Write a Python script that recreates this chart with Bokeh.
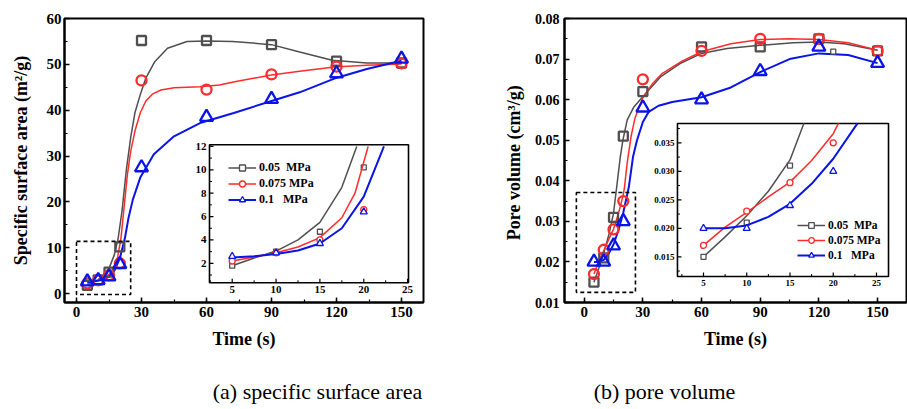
import math
from bokeh.plotting import figure
from bokeh.layouts import row, column
from bokeh.models import (Range1d, SingleIntervalTicker, Legend, LegendItem,
                          PrintfTickFormatter)
from bokeh.core.properties import value
from bokeh.embed import file_html
from bokeh.resources import INLINE

# ---------------- data ----------------
time_pts = [5, 10, 15, 20, 30, 60, 90, 120, 150]
inset_time = [5, 10, 15, 20]
series_names = ["0.05  MPa", "0.075 MPa", "0.1   MPa"]
captions = ["(a) specific surface area", "(b) pore volume"]

# (a) specific surface area (m2/g)
ssa_005 = [1.8, 3.0, 4.7, 10.2, 55.2, 55.2, 54.3, 50.7, 50.3]
ssa_0075 = [2.2, 2.9, 4.0, 6.6, 46.5, 44.5, 47.8, 49.5, 50.2]
ssa_01 = [2.6, 2.9, 3.7, 6.4, 27.5, 38.5, 42.4, 48.0, 51.2]

# fitted curves
ssa_fit_005_t = [5, 7.5, 10, 12.5, 15, 17.5, 19.2, 21, 23, 25, 27, 29.5, 32, 36, 42, 51, 60, 72, 90, 103, 118, 134, 150]
ssa_fit_005 = [1.8, 2.45, 3.05, 4.0, 5.5, 8.5, 12, 18, 27, 34, 39.5, 43.5, 47, 50.5, 53.5, 55, 55.1, 55, 54.3, 52.7, 50.9, 50.3, 50.3]
ssa_fit_0075_t = [5, 7.5, 10, 12.5, 15, 17.5, 19, 20.5, 22, 23.5, 25, 27, 29.5, 32, 35, 39, 45, 57, 66, 73, 90, 103, 119, 134, 150]
ssa_fit_0075 = [2.2, 2.55, 2.9, 3.4, 4.2, 5.9, 8.0, 12, 19, 26, 31, 35.5, 39.5, 42, 43.5, 44.4, 44.9, 45.1, 45.5, 46.2, 47.7, 48.5, 49.4, 49.8, 50.1]
ssa_fit_01_t = [5, 7.5, 10, 12.5, 15, 17.5, 20, 22.3, 24, 26, 29.5, 35.7, 45, 57, 72.6, 90, 103, 119, 134, 150]
ssa_fit_01 = [2.5, 2.6, 2.8, 3.1, 3.7, 5.0, 7.7, 12, 16.5, 20.5, 25.4, 30.4, 34.3, 37.2, 39.4, 42, 43.9, 46.9, 49, 50.8]
ssa_inset_end = [7, 8, 8]  # number of fit points shown inside the inset

# (b) pore volume (cm3/g)
pv_005 = [0.015, 0.021, 0.031, 0.051, 0.062, 0.073, 0.073, 0.075, 0.072]
pv_0075 = [0.017, 0.023, 0.028, 0.035, 0.065, 0.072, 0.075, 0.075, 0.072]
pv_01 = [0.020, 0.020, 0.024, 0.030, 0.058, 0.060, 0.067, 0.073, 0.069]

pv_fit_005_t = [5, 7.5, 10, 12.5, 15, 16.6, 17.5, 18.5, 19.8, 22, 25.4, 29.7, 39, 49, 60, 73, 90, 107, 120, 133, 150]
pv_fit_005 = [0.015, 0.0185, 0.0222, 0.0265, 0.032, 0.0384, 0.042, 0.046, 0.050, 0.055, 0.0582, 0.0606, 0.0656, 0.0689, 0.0714, 0.0726, 0.0734, 0.074, 0.0742, 0.0738, 0.0722]
pv_fit_0075_t = [5, 7.5, 10, 12.5, 15, 17.5, 20, 20.6, 22, 24, 26, 28, 30, 35, 40, 50, 60, 75, 90, 105, 120, 135, 150]
pv_fit_0075 = [0.017, 0.0202, 0.0228, 0.0255, 0.0281, 0.0319, 0.0366, 0.0384, 0.0445, 0.051, 0.0555, 0.058, 0.0605, 0.064, 0.0665, 0.0695, 0.0718, 0.0738, 0.0748, 0.075, 0.0748, 0.074, 0.0722]
pv_fit_01_t = [5, 7.5, 10, 12.5, 15, 17.5, 20, 22.8, 25, 27, 30, 33, 38, 45, 60, 75, 90, 105, 120, 135, 150]
pv_fit_01 = [0.020, 0.020, 0.0205, 0.022, 0.0243, 0.0278, 0.0322, 0.0384, 0.046, 0.050, 0.0545, 0.057, 0.0585, 0.0594, 0.0606, 0.063, 0.0668, 0.070, 0.0714, 0.071, 0.069]
pv_inset_end = [6, 8, 8]

inset_x_ticks = [5, 10, 15, 20, 25]
ssa_inset_y_ticks = [2, 4, 6, 8, 10, 12]
pv_inset_y_ticks = [0.015, 0.020, 0.025, 0.030, 0.035]

# ---------------- style ----------------
FONT = "Liberation Serif"
colors = ["#4f4f4f", "#ff2a2a", "#0a14e6"]
markers = ["square", "circle", "triangle"]
main_sizes = [9, 10, 13]
inset_sizes = [5, 6, 7]
curve_widths = [1.5, 1.5, 2]


def base_fig(width, xr, yr, mbl, mbr, mbt, mbb, yint, yfmt):
    p = figure(width=width, height=370, x_range=xr, y_range=yr,
               output_backend="svg", toolbar_location=None,
               min_border_left=mbl, min_border_right=mbr,
               min_border_top=mbt, min_border_bottom=mbb)
    p.grid.visible = False
    p.outline_line_color = "black"
    p.outline_line_width = 2
    p.background_fill_color = "white"
    p.border_fill_color = "white"
    p.xaxis.ticker = SingleIntervalTicker(interval=30, num_minor_ticks=2)
    p.yaxis.ticker = SingleIntervalTicker(interval=yint, num_minor_ticks=2)
    if yfmt:
        p.yaxis.formatter = PrintfTickFormatter(format=yfmt)
    for ax in (p.xaxis, p.yaxis):
        ax.axis_line_width = 2
        ax.major_tick_in = 5
        ax.major_tick_out = 0
        ax.minor_tick_in = 3
        ax.minor_tick_out = 0
        ax.major_tick_line_width = 1.5
        ax.minor_tick_line_width = 1.2
        ax.major_label_text_font = FONT
        ax.major_label_text_font_style = "bold"
        ax.major_label_text_color = "black"
        ax.axis_label_text_font = FONT
        ax.axis_label_text_font_style = "bold"
        ax.axis_label_text_font_size = "18px"
        ax.axis_label_text_color = "black"
    p.xaxis.axis_label = "Time (s)"
    p.xaxis.major_label_standoff = 4
    p.xaxis.axis_label_standoff = 9
    return p


def draw_main(p, ts, ys, fits):
    for i in range(3):
        ft, fy = fits[i]
        p.line(ft, fy, line_color=colors[i], line_width=curve_widths[i])
    for i in range(3):
        p.scatter(ts, ys[i], marker=markers[i], size=main_sizes[i],
                  fill_color=None, line_color=colors[i], line_width=2.3)


def draw_inset(p, frame, xt, yt, ylab, fits, ends, pts, fs, legend_loc, leg_fs, leg_h):
    x0, x1, y0, y1 = frame
    kw = dict(x_range_name="ix", y_range_name="iy")
    p.quad(left=x0, right=x1, bottom=y0, top=y1, fill_color="white",
           line_color="black", line_width=1.6, **kw)
    dx = xt[1] - xt[0]
    dy = yt[1] - yt[0]
    xminor = [v + dx / 2 for v in [xt[0] - dx] + xt]
    xminor = [v for v in xminor if x0 < v < x1]
    yminor = [v + dy / 2 for v in [yt[0] - dy] + yt]
    yminor = [v for v in yminor if y0 < v < y1]
    rk = dict(length_units="screen", line_color="black", **kw)
    p.ray(x=xt, y=[y0] * len(xt), length=4, angle=math.pi / 2, line_width=1.2, **rk)
    p.ray(x=xminor, y=[y0] * len(xminor), length=2.5, angle=math.pi / 2, line_width=1, **rk)
    p.ray(x=[x0] * len(yt), y=yt, length=4, angle=0, line_width=1.2, **rk)
    p.ray(x=[x0] * len(yminor), y=yminor, length=2.5, angle=0, line_width=1, **rk)
    p.text(x=xt, y=[y0] * len(xt), text=[str(v) for v in xt], text_align="center",
           text_baseline="top", y_offset=3, text_font=value(FONT), text_font_style="bold",
           text_font_size=fs, text_color="black", **kw)
    p.text(x=[x0] * len(yt), y=yt, text=ylab, text_align="right",
           text_baseline="middle", x_offset=-3, text_font=value(FONT), text_font_style="bold",
           text_font_size=fs, text_color="black", **kw)
    items = []
    for i in range(3):
        ft, fy = fits[i]
        n = ends[i]
        ln = p.line(ft[:n], fy[:n], line_color=colors[i], line_width=curve_widths[i], **kw)
        sc = p.scatter(inset_time, pts[i][:4], marker=markers[i], size=inset_sizes[i],
                       fill_color="white", line_color=colors[i], line_width=1.3, **kw)
        items.append(LegendItem(label=series_names[i], renderers=[ln, sc]))
    leg = Legend(items=items, location=legend_loc, background_fill_alpha=0,
                 border_line_alpha=0, padding=0, margin=0, spacing=1,
                 glyph_width=28, glyph_height=leg_h, label_height=leg_h,
                 label_standoff=3, label_text_font=FONT, label_text_font_style="bold",
                 label_text_font_size=leg_fs, label_text_color="black")
    p.add_layout(leg)


# ---------------- (a) ----------------
pa = base_fig(453, Range1d(-5.54, 160.15), Range1d(-1.94, 60), 64, 30, 16, 66, 10, None)
pa.yaxis.axis_label = "Specific surface area (m\u00b2/g)"
pa.xaxis.major_label_text_font_size = "15px"
pa.yaxis.major_label_text_font_size = "15px"
pa.yaxis.major_label_standoff = 3
pa.yaxis.axis_label_standoff = 13
pa.extra_x_ranges = {"ix": Range1d(-14.12, 26.81)}
pa.extra_y_ranges = {"iy": Range1d(-1.35, 22.94)}
ssa_all = [ssa_005, ssa_0075, ssa_01]
ssa_fits = [(ssa_fit_005_t, ssa_fit_005), (ssa_fit_0075_t, ssa_fit_0075), (ssa_fit_01_t, ssa_fit_01)]
draw_main(pa, time_pts, ssa_all, ssa_fits)
pa.quad(left=0, right=25, bottom=-0.2, top=11.4, fill_alpha=0, line_color="black",
        line_width=1.6, line_dash="4 3")
draw_inset(pa, (2.41, 25.1, 0.34, 12.14), inset_x_ticks, ssa_inset_y_ticks,
           [str(v) for v in ssa_inset_y_ticks], ssa_fits, ssa_inset_end, ssa_all,
           "11px", (164, 95), "12px", 15)

# ---------------- (b) ----------------
pb = base_fig(454, Range1d(-10.07, 164.8), Range1d(0.01, 0.08), 111, 1, 18, 68, 0.01, "%.2f")
pb.yaxis.axis_label = "Pore volume  (cm\u00b3/g)"
pb.xaxis.major_label_text_font_size = "15px"
pb.yaxis.major_label_text_font_size = "14px"
pb.yaxis.major_label_standoff = 5
pb.yaxis.axis_label_standoff = 8
pb.extra_x_ranges = {"ix": Range1d(-11.07, 28.47)}
pb.extra_y_ranges = {"iy": Range1d(0.00698, 0.05681)}
pv_all = [pv_005, pv_0075, pv_01]
pv_fits = [(pv_fit_005_t, pv_fit_005), (pv_fit_0075_t, pv_fit_0075), (pv_fit_01_t, pv_fit_01)]
draw_main(pb, time_pts, pv_all, pv_fits)
pb.quad(left=-4, right=26.2, bottom=0.0125, top=0.0371, fill_alpha=0, line_color="black",
        line_width=1.6, line_dash="4 3")
draw_inset(pb, (1.99, 26.39, 0.01154, 0.03839), inset_x_ticks, pv_inset_y_ticks,
           ["%.3f" % v for v in pv_inset_y_ticks], pv_fits, pv_inset_end, pv_all,
           "9px", (233, 40), "11.5px", 14)

# ---------------- captions ----------------
cap = figure(width=907, height=39, x_range=Range1d(0, 907), y_range=Range1d(0, 39),
             output_backend="svg", toolbar_location=None, x_axis_type=None, y_axis_type=None,
             min_border=0)
cap.grid.visible = False
cap.outline_line_color = None
cap.text(x=[317, 664], y=[18, 18], text=captions, text_align="center",
         text_baseline="middle", text_font=value(FONT), text_font_size="22px",
         text_color="black")

layout = column(row(pa, pb), cap, spacing=0)
open("out.html", "w").write(file_html(layout, INLINE))
